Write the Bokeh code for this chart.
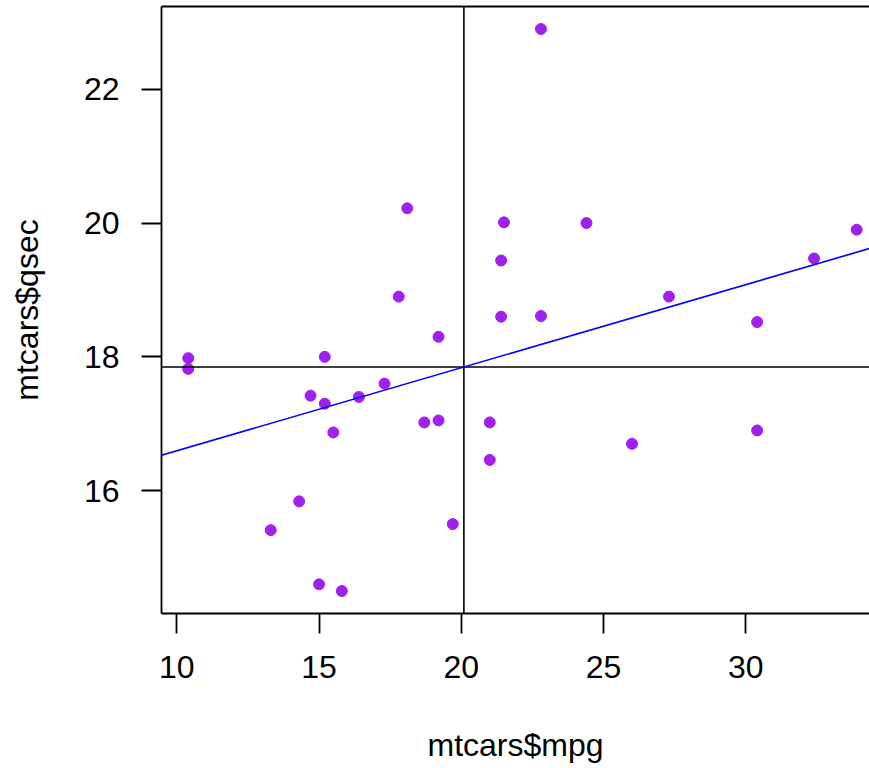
import numpy as np
from bokeh.plotting import figure
from bokeh.models import Span, Slope, LinearAxis, FixedTicker, ColumnDataSource
from bokeh.embed import file_html
from bokeh.resources import INLINE

mpg = [21.0, 21.0, 22.8, 21.4, 18.7, 18.1, 14.3, 24.4, 22.8, 19.2, 17.8, 16.4, 17.3, 15.2,
       10.4, 10.4, 14.7, 32.4, 30.4, 33.9, 21.5, 15.5, 15.2, 13.3, 19.2, 27.3, 26.0, 30.4,
       15.8, 19.7, 15.0, 21.4]
qsec = [16.46, 17.02, 18.61, 19.44, 17.02, 20.22, 15.84, 20.00, 22.90, 18.30, 18.90, 17.40,
        17.60, 18.00, 17.98, 17.82, 17.42, 19.47, 18.52, 19.90, 20.01, 16.87, 17.30, 15.41,
        17.05, 18.90, 16.70, 16.90, 14.50, 15.50, 14.60, 18.60]
x_ticks = [10, 15, 20, 25, 30]
y_ticks = [16, 18, 20, 22]

FONT = "Liberation Sans"

p = figure(width=869, height=766, output_backend="svg", toolbar_location=None,
           x_range=(9.46, 34.35), y_range=(14.164, 23.236),
           min_border_left=161, min_border_right=0, min_border_top=6, min_border_bottom=153)
p.outline_line_color = None
p.grid.visible = False
p.background_fill_color = "white"
p.border_fill_color = "white"

for ax in (p.xaxis[0], p.yaxis[0]):
    ax.axis_line_color = "black"
    ax.axis_line_width = 1.8
    ax.major_tick_line_color = "black"
    ax.major_tick_line_width = 1.8
    ax.major_tick_in = 0
    ax.major_tick_out = 20
    ax.minor_tick_line_color = None
    ax.major_label_text_font = FONT
    ax.major_label_text_font_size = "32px"
    ax.major_label_text_color = "black"
    ax.axis_label_text_font = FONT
    ax.axis_label_text_font_size = "32px"
    ax.axis_label_text_font_style = "normal"
    ax.axis_label_text_color = "black"

p.xaxis[0].ticker = FixedTicker(ticks=x_ticks)
p.yaxis[0].ticker = FixedTicker(ticks=y_ticks)
p.xaxis[0].axis_label = "mtcars$mpg"
p.yaxis[0].axis_label = "mtcars$qsec"
p.xaxis[0].major_label_standoff = 22
p.yaxis[0].major_label_standoff = 22
p.yaxis[0].major_label_orientation = "horizontal"
p.xaxis[0].axis_label_standoff = 46
p.yaxis[0].axis_label_standoff = 36

top = LinearAxis(ticker=FixedTicker(ticks=[]), major_label_text_font_size="0px",
                 axis_line_color="black", axis_line_width=1.8,
                 major_tick_line_color=None, minor_tick_line_color=None)
p.add_layout(top, "above")

src = ColumnDataSource(dict(x=mpg, y=qsec))
p.scatter("x", "y", source=src, size=11, fill_color="#A020F0", line_color="#A020F0")

mx = float(np.mean(mpg))
my = float(np.mean(qsec))
p.add_layout(Span(location=mx, dimension="height", line_color="black", line_width=1.6))
p.add_layout(Span(location=my, dimension="width", line_color="black", line_width=1.6))

b, a = np.polyfit(mpg, qsec, 1)
p.add_layout(Slope(gradient=float(b), y_intercept=float(a), line_color="#0000FF", line_width=1.6))

open("out.html", "w").write(file_html(p, INLINE))
